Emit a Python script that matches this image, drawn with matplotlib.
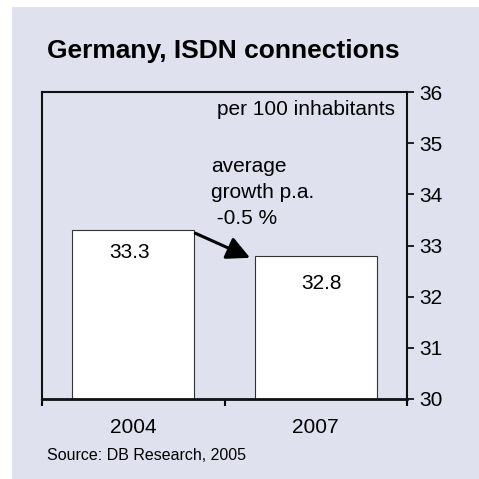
import matplotlib.pyplot as plt
from matplotlib.patches import Rectangle

plt.rcParams['font.family'] = ['Liberation Sans', 'DejaVu Sans']

years = ['2004', '2007']
values = [33.3, 32.8]
growth_label = 'average\ngrowth p.a.\n -0.5 %'

bg = '#E0E1EF'

fig = plt.figure(figsize=(4.79, 4.79), dpi=100)
fig.patches.append(Rectangle((12 / 479, 0), 1, 1 - 7 / 479, transform=fig.transFigure,
                             facecolor=bg, edgecolor='none', zorder=-5))

ax = fig.add_axes([42 / 479, 1 - 399 / 479, 365 / 479, 307 / 479])
ax.set_facecolor(bg)

x = list(range(len(years)))
ax.bar(x, values, width=0.67, color='white', edgecolor='#333333', linewidth=0.8, zorder=2)

ax.set_xlim(-0.5, 1.5)
ax.set_ylim(30, 36)

# y axis on the right
ax.yaxis.tick_right()
ax.set_yticks(range(30, 37))
ax.tick_params(axis='y', direction='out', length=5, width=1.2, labelsize=15, pad=4)

# category boundaries as x ticks, labels centred under bars
ax.set_xticks([-0.5, 0.5, 1.5])
ax.set_xticklabels([])
ax.set_xticks(x, minor=True)
ax.set_xticklabels(years, minor=True, fontsize=15)
ax.tick_params(axis='x', which='major', direction='out', length=5, width=1.5)
ax.tick_params(axis='x', which='minor', length=0, pad=14)

for side in ['left', 'right', 'top']:
    ax.spines[side].set_linewidth(1.5)
    ax.spines[side].set_color('#111111')
ax.spines['bottom'].set_linewidth(2)
ax.spines['bottom'].set_color('#111111')

# value labels inside bars
ax.text(-0.02, values[0] - 0.44, f'{values[0]}', ha='center', va='center', fontsize=15)
ax.text(1.03, values[1] - 0.55, f'{values[1]}', ha='center', va='center', fontsize=15)

ax.text(1.435, 35.65, 'per 100 inhabitants', ha='right', va='center', fontsize=15)
ax.text(0.425, 34.72, growth_label, ha='left', va='top', fontsize=15, linespacing=1.45)

ax.annotate('', xy=(0.64, 32.76), xytext=(0.34, 33.24),
            arrowprops=dict(arrowstyle='-|>,head_length=0.7,head_width=0.35',
                            mutation_scale=20, color='black', lw=2.2,
                            shrinkA=0, shrinkB=0))

fig.text(47 / 479, 1 - 51 / 479, 'Germany, ISDN connections', fontsize=19,
         fontweight='bold', ha='left', va='center')
fig.text(47 / 479, 1 - 455 / 479, 'Source: DB Research, 2005', fontsize=11.5,
         ha='left', va='center')

fig.savefig('out.png', dpi=100)
